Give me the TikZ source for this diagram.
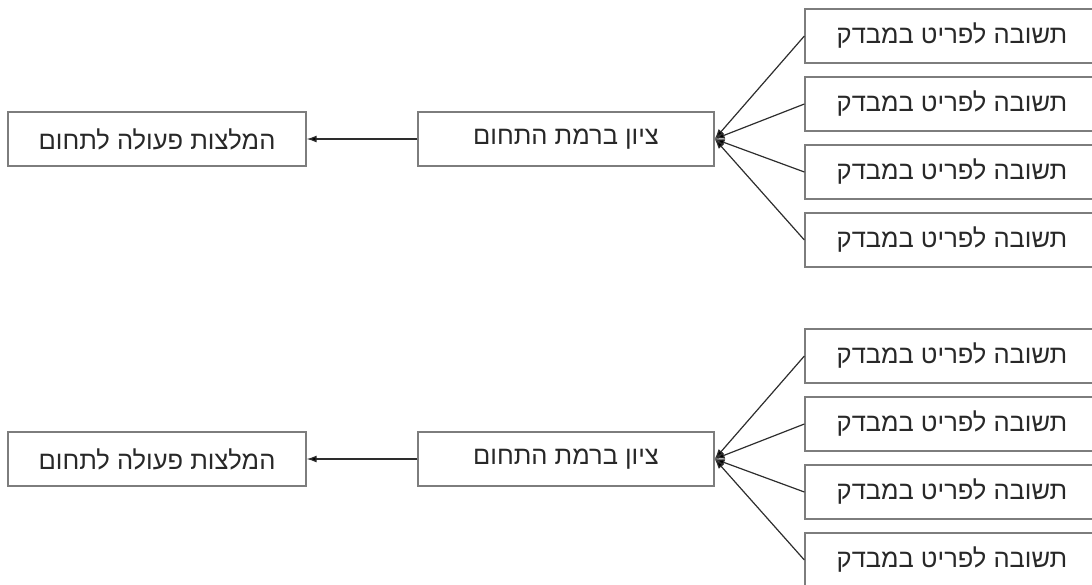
\documentclass[tikz,border=0pt]{standalone}
\usepackage{fontspec}
\usetikzlibrary{arrows.meta}
\TeXXeTstate=1
\newfontfamily\hebfont[Script=Hebrew]{Liberation Sans}

\begin{document}
\begin{tikzpicture}[x=1pt,y=-1pt]
  \definecolor{boxgray}{RGB}{125,125,125};
  \definecolor{linegray}{RGB}{45,45,45};
  \definecolor{txtgray}{RGB}{40,40,40};
  \tikzset{
    box/.style={draw=boxgray,line width=1.3pt,minimum width=296pt,minimum height=54pt,
      inner sep=0pt,text=txtgray,font=\hebfont\fontsize{25.5}{28}\selectfont},
    link/.style={draw=linegray,line width=1.2pt,-{Latex[length=10pt,width=7pt,fill=black]}},
  }
  \useasboundingbox (0,0) rectangle (1092,584);
  \foreach \g/\dy in {a/0, b/320} {
    \node[box,minimum width=298pt] (rec\g) at (157,139+\dy) {\beginR המלצות פעולה לתחום\endR};
    \node[box] (score\g) at (566,139+\dy) {\beginR ציון ברמת התחום\endR};
    \draw[link] (score\g.west) -- (rec\g.east);
    \foreach \i/\y in {1/36, 2/104, 3/172, 4/240} {
      \node[box,minimum width=294pt] (ans\g\i) at (952,\y+\dy) {\beginR תשובה לפריט במבדק\endR};
      \draw[link] (ans\g\i.west) -- (score\g.east);
    }
  }
\end{tikzpicture}
\end{document}
